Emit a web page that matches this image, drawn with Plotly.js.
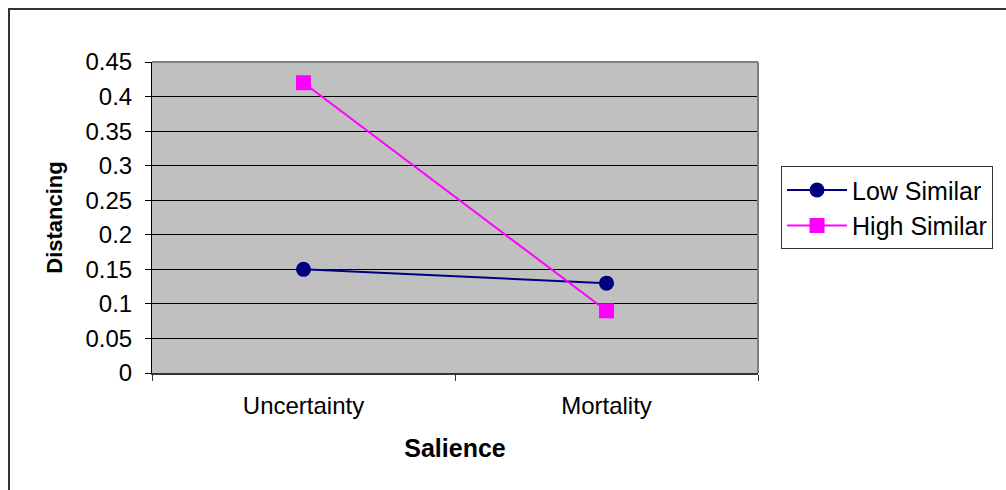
<!DOCTYPE html>
<html>
<head>
<meta charset="utf-8">
<script src="https://cdn.plot.ly/plotly-3.0.1.min.js"></script>
<style>
  html, body { margin: 0; padding: 0; background: #fff; overflow: hidden; }
  #wrap { position: relative; width: 1006px; height: 490px; }
  #chart { position: absolute; left: 0; top: 0; width: 1006px; height: 490px; }
  #frame { position: absolute; left: 8px; top: 8px; width: 1100px; height: 600px;
           border-top: 2px solid #333; border-left: 2px solid #333; pointer-events: none; }
</style>
</head>
<body>
<div id="wrap">
  <div id="chart"></div>
  <div id="frame"></div>
</div>
<script>
const categories = ["Uncertainty", "Mortality"];
const lowSimilar = [0.15, 0.13];
const highSimilar = [0.42, 0.09];
const seriesNames = ["Low Similar", "High Similar"];
const yTickVals = [0, 0.05, 0.1, 0.15, 0.2, 0.25, 0.3, 0.35, 0.4, 0.45];
const yTickText = ["0", "0.05", "0.1", "0.15", "0.2", "0.25", "0.3", "0.35", "0.4", "0.45"];

const font = "Liberation Sans, Arial, sans-serif";

const traces = [
  {
    x: categories, y: lowSimilar, name: seriesNames[0], type: "scatter", mode: "lines+markers",
    line: { color: "#000080", width: 2 },
    marker: { symbol: "circle", size: 15, color: "#000080" }
  },
  {
    x: categories, y: highSimilar, name: seriesNames[1], type: "scatter", mode: "lines+markers",
    line: { color: "#FF00FF", width: 2 },
    marker: { symbol: "square", size: 15, color: "#FF00FF" }
  }
];

const layout = {
  width: 1006, height: 490,
  margin: { l: 152, r: 248, t: 62, b: 117 },
  paper_bgcolor: "#FFFFFF",
  plot_bgcolor: "#C0C0C0",
  font: { family: font, size: 24, color: "#000" },
  showlegend: true,
  legend: {
    x: 1.038, y: 0.665, xanchor: "left", yanchor: "top",
    bgcolor: "#FFFFFF", bordercolor: "#333333", borderwidth: 1,
    font: { family: font, size: 25, color: "#000" },
    itemwidth: 60,
    tracegroupgap: 0
  },
  xaxis: {
    type: "category",
    range: [-0.5, 1.5],
    showgrid: false,
    zeroline: false,
    showline: true, linecolor: "#333333", linewidth: 2,
    ticks: "outside", tickson: "boundaries", ticklen: 6, tickcolor: "#333", tickwidth: 1,
    ticklabelstandoff: 10,
    tickfont: { family: font, size: 24, color: "#000" },
    title: { text: "<b>Salience</b>", font: { family: font, size: 25, color: "#000" }, standoff: 22 }
  },
  yaxis: {
    range: [0, 0.45],
    tickvals: yTickVals, ticktext: yTickText,
    showgrid: true, gridcolor: "#000000", gridwidth: 1,
    zeroline: false,
    showline: true, linecolor: "#000000", linewidth: 1,
    ticks: "outside", ticklen: 6, tickcolor: "#000", tickwidth: 1,
    ticklabelstandoff: 8,
    tickfont: { family: font, size: 24, color: "#000" },
    title: { text: "<b>Distancing</b>", font: { family: font, size: 22, color: "#000" }, standoff: 16 }
  },
  shapes: [
    { type: "line", xref: "paper", yref: "paper", x0: 0, x1: 1, y0: 1, y1: 1,
      line: { color: "#808080", width: 2 } },
    { type: "line", xref: "paper", yref: "paper", x0: 1, x1: 1, y0: 0, y1: 1,
      line: { color: "#808080", width: 2 } }
  ]
};

Plotly.newPlot("chart", traces, layout, { displayModeBar: false, staticPlot: true });
</script>
</body>
</html>
